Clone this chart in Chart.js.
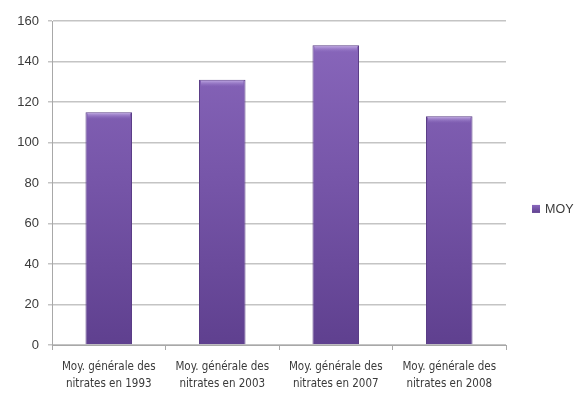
<!DOCTYPE html>
<html>
<head>
<meta charset="utf-8">
<script src="https://cdn.jsdelivr.net/npm/chart.js@4/dist/chart.umd.min.js"></script>
<style>
    html, body { margin: 0; padding: 0; background: #fff; }
    #wrap { width: 581px; height: 399px; }
</style>
</head>
<body>
<div id="wrap"><canvas id="nitrates" width="581" height="399"></canvas></div>
<script>
const categories = [
    ['Moy. générale des', 'nitrates en 1993'],
    ['Moy. générale des', 'nitrates en 2003'],
    ['Moy. générale des', 'nitrates en 2007'],
    ['Moy. générale des', 'nitrates en 2008']
];
const moyValues = [115, 131, 148, 113];
const seriesName = 'MOY';
const yTicks = [0, 20, 40, 60, 80, 100, 120, 140, 160];

const AXIS_GREY = '#a8a8a8';
const TEXT_DARK = '#3a3a3a';

function barFill(context) {
    const chart = context.chart;
    const area = chart.chartArea;
    if (!area)
        return '#7350a6';
    const g = chart.ctx.createLinearGradient(0, area.top, 0, area.bottom);
    g.addColorStop(0, '#8a68bd');
    g.addColorStop(0.5, '#7655a8');
    g.addColorStop(1, '#5f408f');
    return g;
}

// light bevel along the top of each bar
const bevelPlugin = {
    id: 'bevel',
    afterDatasetsDraw(chart) {
        const ctx = chart.ctx;
        chart.getDatasetMeta(0).data.forEach(bar => {
            const left = bar.x - bar.width / 2;
            ctx.save();
            const g = ctx.createLinearGradient(0, bar.y, 0, bar.y + 7);
            g.addColorStop(0, 'rgba(210,190,240,0.9)');
            g.addColorStop(1, 'rgba(150,120,200,0)');
            ctx.fillStyle = g;
            ctx.fillRect(left + 2, bar.y + 1, bar.width - 4, 7);
            ctx.restore();
        });
    }
};

// legend drawn beside the plot
const sideLegend = {
    id: 'sideLegend',
    afterDraw(chart) {
        const ctx = chart.ctx;
        const area = chart.chartArea;
        const x = area.right + 26;
        const y = area.top + (area.bottom - area.top) * 0.58;
        ctx.save();
        const g = ctx.createLinearGradient(0, y - 4, 0, y + 4);
        g.addColorStop(0, '#8a68bd');
        g.addColorStop(1, '#5f408f');
        ctx.fillStyle = g;
        ctx.fillRect(x, y - 4, 8, 8);
        ctx.fillStyle = TEXT_DARK;
        ctx.font = '12.5px "Liberation Sans", Arial, sans-serif';
        ctx.textBaseline = 'middle';
        ctx.fillText(chart.data.datasets[0].label, x + 13, y + 1);
        ctx.restore();
    }
};

new Chart(document.getElementById('nitrates'), {
    type: 'bar',
    data: {
        labels: categories,
        datasets: [{
            label: seriesName,
            data: moyValues,
            backgroundColor: barFill,
            borderColor: '#5a3d86',
            borderWidth: 1,
            categoryPercentage: 1.0,
            barPercentage: 0.41
        }]
    },
    options: {
        responsive: false,
        animation: false,
        layout: { padding: { top: 21, right: 75, bottom: 0, left: 0 } },
        plugins: {
            legend: { display: false },
            tooltip: { enabled: false }
        },
        scales: {
            x: {
                grid: {
                    display: true,
                    drawOnChartArea: false,
                    drawTicks: true,
                    tickLength: 5,
                    color: AXIS_GREY,
                    offset: true
                },
                border: { color: AXIS_GREY },
                ticks: {
                    color: TEXT_DARK,
                    font: { family: '"Liberation Sans Narrow", "DejaVu Sans Condensed", sans-serif', size: 11.5, lineHeight: 1.5 },
                    padding: 8,
                    maxRotation: 0,
                    autoSkip: false
                },
                afterFit(scale) { scale.height = 54; }
            },
            y: {
                min: 0,
                max: 160,
                afterBuildTicks(scale) {
                    scale.ticks = yTicks.map(v => ({ value: v }));
                },
                grid: {
                    color: '#c4c4c4',
                    lineWidth: 1.5,
                    tickLength: 4
                },
                border: { color: AXIS_GREY },
                ticks: {
                    color: TEXT_DARK,
                    font: { family: '"Liberation Sans", Arial, sans-serif', size: 13 },
                    padding: 9
                },
                afterFit(scale) { scale.width = 52; }
            }
        }
    },
    plugins: [bevelPlugin, sideLegend]
});
</script>
</body>
</html>
